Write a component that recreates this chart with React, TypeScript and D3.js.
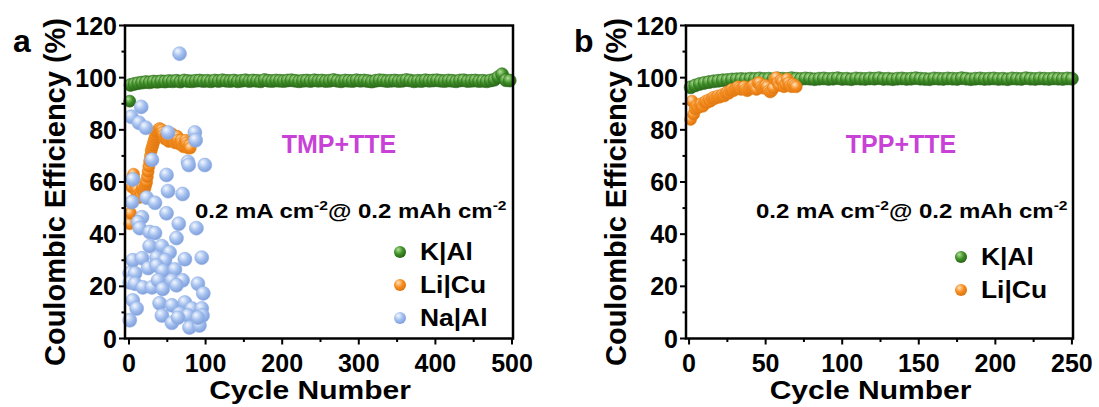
import React from 'react';
import * as d3 from 'd3';

const FONT = "'Liberation Sans', Arial, sans-serif";

// ---- panel a (TMP+TTE) ----
// K|Al: first cycle then every 5 cycles
const aKFirst = 91;
const aKCycles = d3.range(2, 502, 5);
const aKValues = [
  97.2, 97.6, 97.9, 98.1, 98.3, 98.2, 98.5, 98.4, 98.6, 98.5,
  98.7, 98.6, 98.8, 98.5, 98.9, 98.7, 98.6, 98.8, 98.9, 98.7,
  98.8, 98.6, 98.9, 98.7, 99.0, 98.8, 98.7, 98.9, 98.6, 98.8,
  99.0, 98.7, 98.9, 98.8, 98.6, 99.1, 98.8, 98.7, 98.9, 98.8,
  98.7, 98.9, 99.0, 98.8, 98.6, 98.8, 98.9, 98.7, 99.0, 98.8,
  98.9, 98.7, 98.8, 99.1, 98.8, 98.6, 98.9, 98.8, 98.7, 99.0,
  98.8, 98.9, 98.7, 98.5, 98.8, 99.0, 98.9, 98.7, 98.8, 98.9,
  98.7, 98.8, 99.1, 98.9, 98.6, 98.8, 98.7, 99.0, 98.8, 98.9,
  99.0, 98.8, 98.7, 98.9, 98.8, 98.6, 98.9, 99.0, 98.7, 98.8,
  98.9, 98.7, 98.8, 98.6, 98.9, 99.2, 100.2, 101.3, 99.0, 98.9,
];
const aLiCycles = d3.range(1, 81);
const aLiValues = [
  44, 48, 52, 58, 62, 63, 61, 59, 57, 56,
  57, 55, 54, 55, 56, 55, 57, 58, 56, 57,
  58, 59, 60, 62, 64, 66, 68, 70, 72, 73,
  74, 75, 76, 77, 78, 79, 79.5, 80, 80, 80.5,
  80, 79.5, 80, 79, 78, 77, 76.5, 77, 78, 77,
  76, 75.5, 76, 77, 78, 78.5, 78, 77, 76, 75,
  76, 77, 77.5, 76, 75, 74.5, 75, 76, 75, 74,
  73.5, 74, 75, 76, 75, 74, 73, 73.5, 74, 73,
];
const aNaCycles = [
  66, 16, 3, 13, 22, 51, 86, 87, 30, 77, 78, 99, 49, 5, 51, 70, 23,
  4, 34, 49, 17, 12, 65, 88, 14, 27, 34, 62, 27, 43, 53, 5, 17, 36,
  47, 73, 95, 1, 8, 25, 36, 44, 60, 1, 8, 18, 30, 38, 44, 56, 70, 62,
  90, 97, 5, 10, 40, 56, 73, 82, 95, 1, 43, 56, 66, 77, 79, 92, 96, 64, 90,
];
const aNaValues = [
  109.2, 88.8, 85, 82.7, 80.8, 79, 79, 76, 68.5, 67.7, 66.5, 66.5, 62.7, 61, 56.5, 55.4, 54,
  52.3, 52, 48, 46.5, 44.6, 44, 42.3, 42.3, 40.8, 40.4, 38.5, 35.4, 35.4, 33, 30, 30.8, 31,
  30, 30.4, 31, 25, 25, 27, 28, 26, 26.5, 21.5, 21, 19.6, 19.6, 22.3, 19, 22.3, 22.3, 20.4,
  21, 17.3, 14.6, 11.5, 13.5, 12.7, 13.8, 11.5, 11.5, 7, 8.8, 6, 9.6, 8.8, 4.2, 5, 8.8, 8, 8,
];

// ---- panel b (TPP+TTE) ----
const bKCycles = d3.range(1, 251, 3);
const bKValues = [
  96.3, 97.0, 97.6, 98.0, 98.3, 98.6, 98.8, 99.0, 99.1, 99.3,
  99.4, 99.5, 99.4, 99.6, 99.5, 99.7, 99.5, 99.6, 99.4, 99.7,
  99.6, 99.5, 99.8, 99.6, 99.5, 99.7, 99.6, 99.4, 99.6, 99.7,
  99.5, 99.6, 99.8, 99.5, 99.6, 99.4, 99.7, 99.6, 99.5, 99.7,
  99.6, 99.8, 99.5, 99.6, 99.4, 99.6, 99.7, 99.5, 99.6, 99.8,
  99.6, 99.5, 99.4, 99.7, 99.6, 99.5, 99.7, 99.6, 99.5, 99.8,
  99.6, 99.4, 99.6, 99.7, 99.5, 99.6, 99.7, 99.5, 99.6, 99.4,
  99.7, 99.6, 99.5, 99.8, 99.6, 99.5, 99.7, 99.6, 99.5, 99.7,
  99.6, 99.5, 99.7, 99.6,
];
const bLiCycles = d3.range(1, 71);
const bLiValues = [
  84, 91, 86, 88, 89, 88.5, 89.5, 90, 89, 90.5,
  91, 90.5, 91.5, 91, 92, 92.5, 92, 92.5, 93, 92.5,
  93, 93.5, 93, 94, 94.5, 94, 95, 95.5, 95, 95.5,
  96, 96.5, 96, 95.5, 96, 96.5, 95.5, 95, 95.5, 96,
  96.5, 97, 96, 95.5, 98, 98, 96.5, 96, 96.5, 97,
  96.5, 95, 94.5, 95, 96, 99.5, 100, 98, 97, 99,
  98.5, 96.5, 97.5, 99.5, 98, 97, 96.5, 97.5, 97, 96.5,
];

const yTicks = [0, 20, 40, 60, 80, 100, 120];
const yMinor = [10, 30, 50, 70, 90, 110];
const aXTicks = [0, 100, 200, 300, 400, 500];
const aXMinor = [50, 150, 250, 350, 450];
const bXTicks = [0, 50, 100, 150, 200, 250];
const bXMinor = [25, 75, 125, 175, 225];

const palette = {
  green: ['#b2e096', '#3f8f28', '#2a6618'],
  orange: ['#ffe2bd', '#f78d1f', '#dc7410'],
  blue: ['#f4f8ff', '#a3bfee', '#7f9fdc'],
};
const edge = { green: '#2f6f1e', orange: '#e88318', blue: '#94b2e6' };

const TOP = 25.5;
const BOTTOM = 338.5;

type Series = { key: string; cycles: number[]; values: number[]; color: keyof typeof palette; r: number };

function Panel(props: {
  letter: string; left: number; right: number; xDomain: [number, number];
  xTicks: number[]; xMinor: number[]; series: Series[]; tag: string; tagX: number;
  legend: { label: string; color: keyof typeof palette }[]; legendY: number;
}) {
  const { letter, left, right, xDomain, xTicks, xMinor, series, tag, tagX, legend, legendY } = props;
  const x = d3.scaleLinear().domain(xDomain).range([left, right]);
  const y = d3.scaleLinear().domain([0, 120]).range([BOTTOM, TOP]);
  const mid = (left + right) / 2;

  return (
    <g fontFamily={FONT} fontWeight="bold">
      <text x={left - 112} y={52} fontSize={32}>{letter}</text>

      {series.map(s => (
        <g key={s.key}>
          {s.values.map((v, i) => (
            <circle key={i} cx={x(s.cycles[i])} cy={y(v)} r={s.r}
              fill={`url(#grad-${s.color})`} stroke={edge[s.color]} strokeWidth={0.6} />
          ))}
        </g>
      ))}

      <rect x={left} y={TOP} width={right - left} height={BOTTOM - TOP} fill="none" stroke="#000" strokeWidth={2.5} />

      {yTicks.map(t => (
        <g key={'y' + t}>
          <line x1={left - 6} x2={left} y1={y(t)} y2={y(t)} stroke="#000" strokeWidth={2} />
          <text x={left - 8} y={y(t)} dy="0.36em" textAnchor="end" fontSize={25}>{t}</text>
        </g>
      ))}
      {yMinor.map(t => (
        <line key={'ym' + t} x1={left - 3.5} x2={left} y1={y(t)} y2={y(t)} stroke="#000" strokeWidth={2} />
      ))}
      {xTicks.map(t => (
        <g key={'x' + t}>
          <line x1={x(t)} x2={x(t)} y1={BOTTOM} y2={BOTTOM + 6} stroke="#000" strokeWidth={2} />
          <text x={x(t)} y={BOTTOM + 33} textAnchor="middle" fontSize={25}>{t}</text>
        </g>
      ))}
      {xMinor.map(t => (
        <line key={'xm' + t} x1={x(t)} x2={x(t)} y1={BOTTOM} y2={BOTTOM + 3.5} stroke="#000" strokeWidth={2} />
      ))}

      <text transform={`translate(${left - 60},192) rotate(-90)`} textAnchor="middle" fontSize={29}>
        Coulombic Efficiency (%)
      </text>
      <text transform={`translate(${mid - 9},399) scale(1.2,1)`} textAnchor="middle" fontSize={25}>
        Cycle Number
      </text>

      <text x={tagX} y={153} textAnchor="middle" fontSize={25} fill="#c842d8">{tag}</text>

      <text transform={`translate(${left + 70},218) scale(1.2,1)`} fontSize={20}>
        0.2 mA cm<tspan fontSize={13} dy={-8}>-2</tspan>
        <tspan dy={8}>@ 0.2 mAh cm</tspan>
        <tspan fontSize={13} dy={-8}>-2</tspan>
      </text>

      {legend.map((l, i) => (
        <g key={l.label} transform={`translate(${left + 275},${legendY + i * 33})`}>
          <circle r={6} fill={`url(#grad-${l.color})`} />
          <text transform="translate(20,8) scale(1.1,1)" fontSize={24}>{l.label}</text>
        </g>
      ))}
    </g>
  );
}

export default function App() {
  return (
    <svg width={1099} height={407} style={{ display: 'block', position: 'absolute', left: 0, top: 0 }}>
      <defs>
        {Object.entries(palette).map(([k, c]) => (
          <radialGradient key={k} id={`grad-${k}`} cx="0.4" cy="0.35" r="0.65" fx="0.35" fy="0.3">
            <stop offset="0%" stopColor={c[0]} />
            <stop offset="55%" stopColor={c[1]} />
            <stop offset="100%" stopColor={c[2]} />
          </radialGradient>
        ))}
      </defs>
      <rect width={1099} height={407} fill="#fff" />
      <Panel
        letter="a" left={125} right={513} xDomain={[-5.2, 501.3]}
        xTicks={aXTicks} xMinor={aXMinor}
        series={[
          { key: 'k0', cycles: [1], values: [aKFirst], color: 'green', r: 6 },
          { key: 'k', cycles: aKCycles, values: aKValues, color: 'green', r: 6.5 },
          { key: 'li', cycles: aLiCycles, values: aLiValues, color: 'orange', r: 6 },
          { key: 'na', cycles: aNaCycles, values: aNaValues, color: 'blue', r: 7 },
        ]}
        tag="TMP+TTE" tagX={339}
        legend={[{ label: 'K|Al', color: 'green' }, { label: 'Li|Cu', color: 'orange' }, { label: 'Na|Al', color: 'blue' }]}
        legendY={252}
      />
      <Panel
        letter="b" left={686} right={1073} xDomain={[-2, 250.7]}
        xTicks={bXTicks} xMinor={bXMinor}
        series={[
          { key: 'k', cycles: bKCycles, values: bKValues, color: 'green', r: 6.5 },
          { key: 'li', cycles: bLiCycles, values: bLiValues, color: 'orange', r: 6 },
        ]}
        tag="TPP+TTE" tagX={901}
        legend={[{ label: 'K|Al', color: 'green' }, { label: 'Li|Cu', color: 'orange' }]}
        legendY={257}
      />
    </svg>
  );
}
